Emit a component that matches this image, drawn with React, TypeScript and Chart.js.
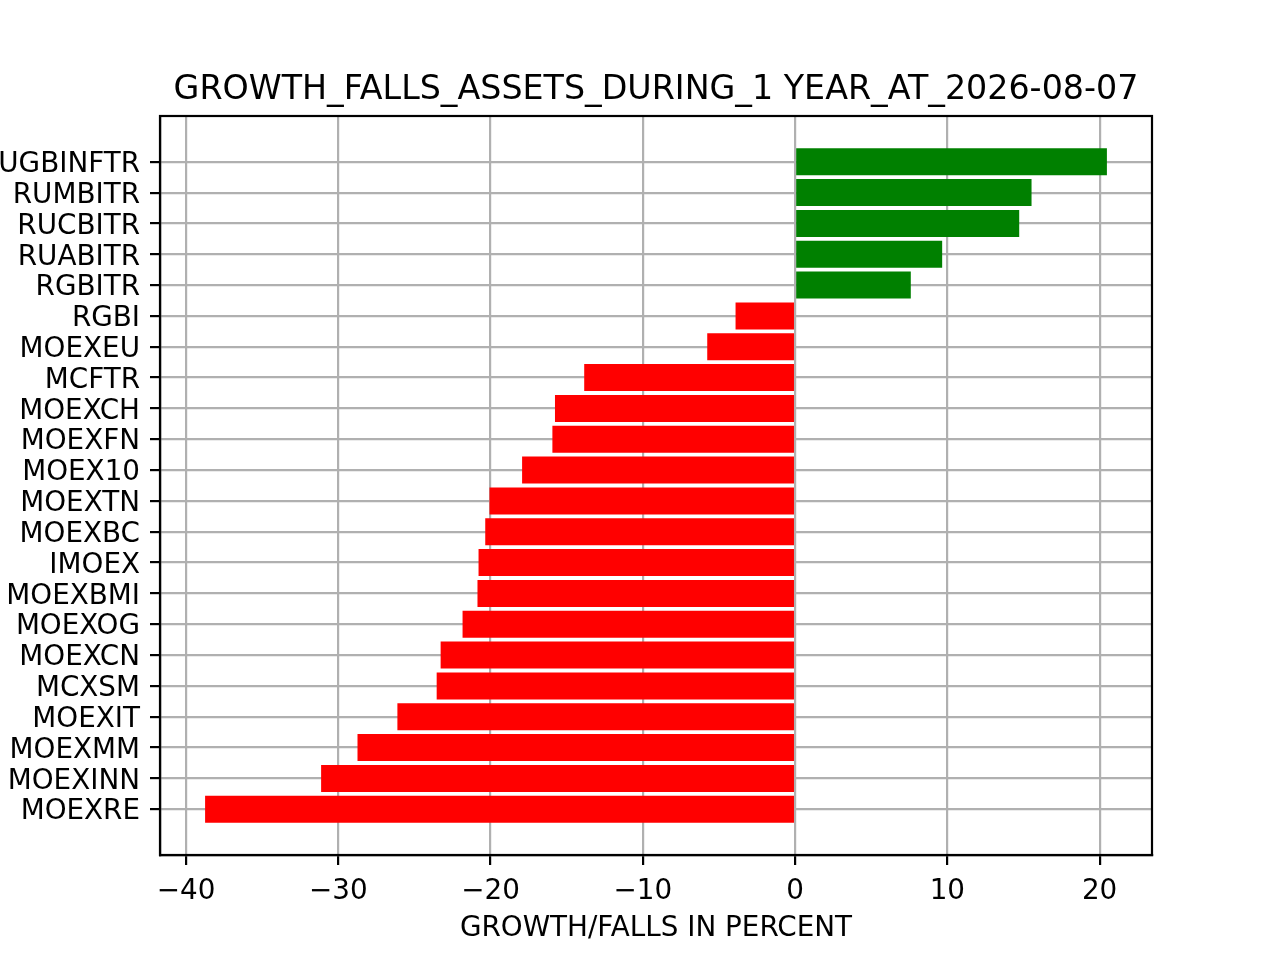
import { useEffect, useRef } from "react";
import { Chart, registerables } from "chart.js";

Chart.register(...registerables);

const tickers = [
  "RUGBINFTR", "RUMBITR", "RUCBITR", "RUABITR", "RGBITR", "RGBI", "MOEXEU",
  "MCFTR", "MOEXCH", "MOEXFN", "MOEX10", "MOEXTN", "MOEXBC", "IMOEX",
  "MOEXBMI", "MOEXOG", "MOEXCN", "MCXSM", "MOEXIT", "MOEXMM", "MOEXINN", "MOEXRE",
];
const changes = [
  20.48, 15.53, 14.72, 9.66, 7.6, -3.91, -5.77,
  -13.85, -15.77, -15.94, -17.93, -20.07, -20.35, -20.79,
  -20.86, -21.84, -23.28, -23.54, -26.12, -28.74, -31.13, -38.75,
];
const xTicks = [-40, -30, -20, -10, 0, 10, 20];

const TITLE = "GROWTH_FALLS_ASSETS_DURING_1 YEAR_AT_2026-08-07";
const X_LABEL = "GROWTH/FALLS IN PERCENT";
const FONT = "DejaVu Sans";

const fmt = (v: number) => (v < 0 ? "\u2212" + Math.abs(v) : String(v));

// top/right spines and the title, matplotlib style
const frame = {
  id: "frame",
  afterDraw(chart: Chart) {
    const { ctx, chartArea: a } = chart;
    ctx.save();
    ctx.strokeStyle = "#000";
    ctx.lineWidth = 2.2;
    ctx.strokeRect(a.left, a.top, a.right - a.left, a.bottom - a.top);
    ctx.fillStyle = "#000";
    ctx.font = `33.3px "${FONT}"`;
    ctx.textAlign = "center";
    ctx.textBaseline = "alphabetic";
    ctx.fillText(TITLE, (a.left + a.right) / 2, 99);
    ctx.restore();
  },
};

export default function App() {
  const canvasRef = useRef<HTMLCanvasElement | null>(null);

  useEffect(() => {
    document.body.style.margin = "0";
    if (!canvasRef.current) return;

    const lo = Math.min(0, ...changes);
    const hi = Math.max(0, ...changes);
    const span = hi - lo;

    const chart = new Chart(canvasRef.current, {
      type: "bar",
      data: {
        datasets: [
          {
            data: tickers.map((_, i) => ({ x: changes[i], y: i })),
            backgroundColor: changes.map((v) => (v >= 0 ? "#008000" : "#ff0000")),
            borderWidth: 0,
            categoryPercentage: 1,
            barPercentage: 0.876,
          },
        ],
      },
      options: {
        indexAxis: "y",
        animation: false,
        responsive: false,
        devicePixelRatio: 1,
        layout: { padding: { top: 116, right: 128, left: 0, bottom: 0 } },
        plugins: {
          legend: { display: false },
          tooltip: { enabled: false },
          title: { display: false },
        },
        scales: {
          x: {
            type: "linear",
            min: lo - 0.05 * span,
            max: hi + 0.05 * span,
            z: 1,
            afterBuildTicks: (scale: any) => {
              scale.ticks = xTicks.map((value) => ({ value }));
            },
            afterFit: (scale: any) => {
              scale.height = 105;
            },
            grid: {
              color: "#b0b0b0",
              lineWidth: 2.2,
              tickColor: "#000",
              tickWidth: 2.2,
              tickLength: 10,
            },
            border: { color: "#000", width: 2.2 },
            ticks: {
              color: "#000",
              font: { family: FONT, size: 27.8 },
              padding: 10,
              maxRotation: 0,
              callback: (v: any) => fmt(Number(v)),
            },
            title: {
              display: true,
              text: X_LABEL,
              color: "#000",
              font: { family: FONT, size: 27.8 },
              padding: { top: 0, bottom: 15 },
            },
          },
          y: {
            type: "linear",
            reverse: true,
            min: -1.485,
            max: tickers.length - 1 + 1.485,
            offset: false,
            z: 1,
            afterBuildTicks: (scale: any) => {
              scale.ticks = tickers.map((_, i) => ({ value: i }));
            },
            afterFit: (scale: any) => {
              scale.width = 160;
            },
            grid: {
              offset: false,
              color: "#b0b0b0",
              lineWidth: 2.2,
              tickColor: "#000",
              tickWidth: 2.2,
              tickLength: 10,
            },
            border: { color: "#000", width: 2.2 },
            ticks: {
              color: "#000",
              autoSkip: false,
              font: { family: FONT, size: 27.8 },
              padding: 10,
              labelOffset: 3,
              callback: (v: any) => tickers[Number(v)] ?? "",
            },
          },
        },
      },
      plugins: [frame],
    });

    return () => {
      chart.destroy();
    };
  }, []);

  return (
    <div style={{ width: 1280, height: 960, background: "#fff" }}>
      <canvas ref={canvasRef} width={1280} height={960} />
    </div>
  );
}
